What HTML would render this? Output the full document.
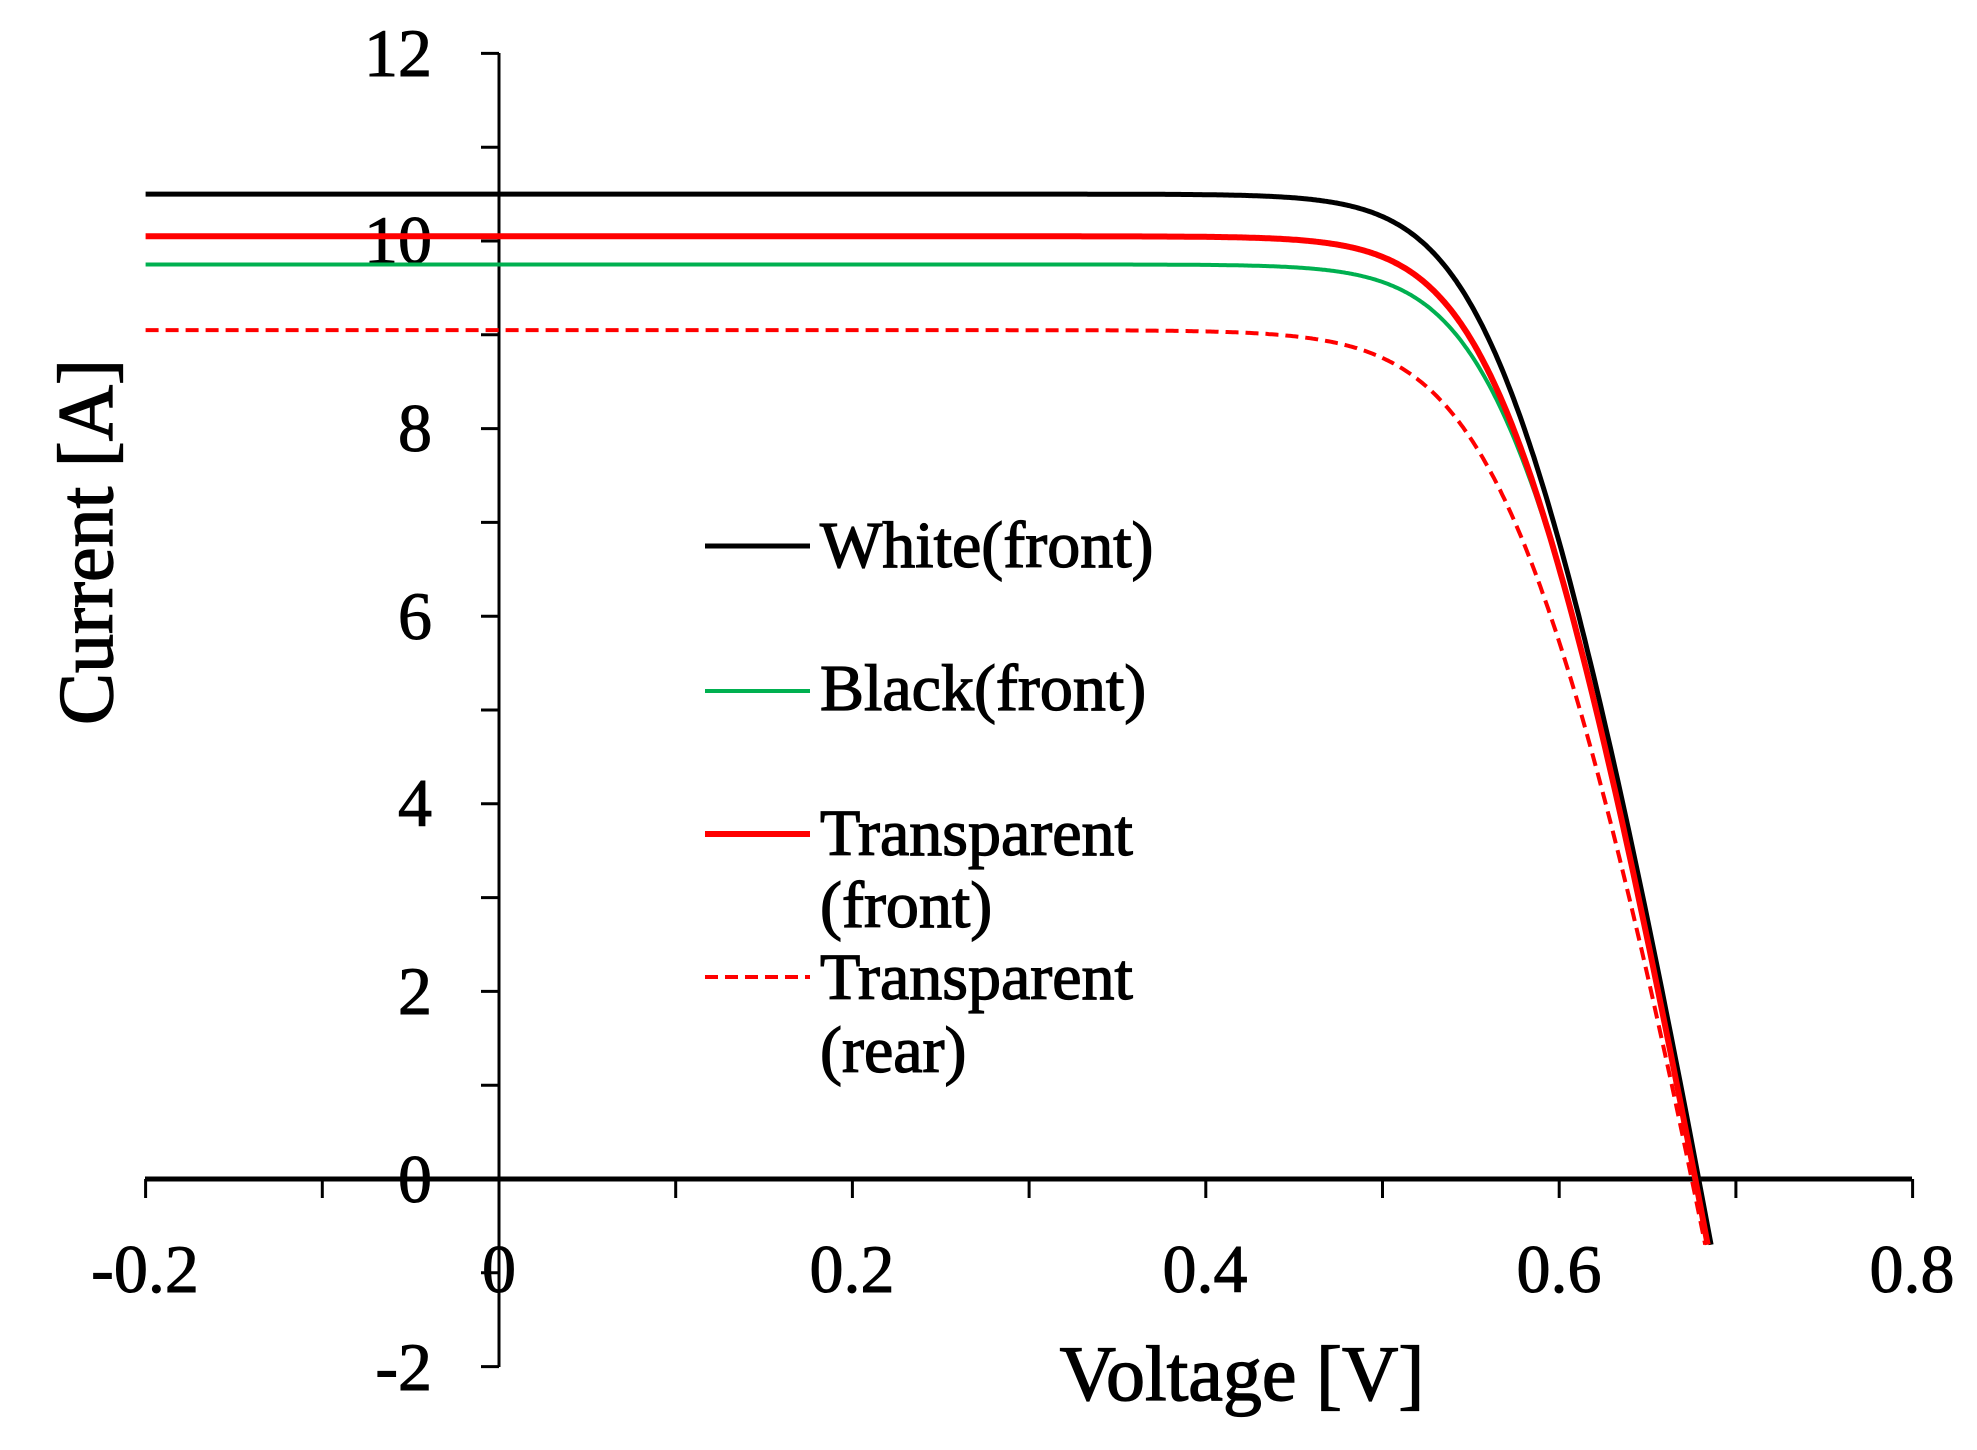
<!DOCTYPE html>
<html><head><meta charset="utf-8">
<style>
html,body{margin:0;padding:0;background:#fff;}
svg{display:block;}
text{font-family:"Liberation Serif","DejaVu Serif",serif;fill:#000;stroke:#000;}
</style></head>
<body>
<svg id="s" width="1977" height="1450" viewBox="0 0 1977 1450" xmlns="http://www.w3.org/2000/svg">
<rect width="1977" height="1450" fill="#fff"/>
<g id="axes" stroke="#000" fill="none">
<line x1="499" y1="53" x2="499" y2="1367" stroke-width="3"/>
<line x1="145" y1="1179" x2="1912" y2="1179" stroke-width="5"/>
</g>
<g id="ticks" stroke="#000" stroke-width="3"></g>
<g font-size="68" text-anchor="end" stroke-width="1">
<text x="432" y="76">12</text>
<text x="432" y="263">10</text>
<text x="432" y="451">8</text>
<text x="432" y="639">6</text>
<text x="432" y="826">4</text>
<text x="432" y="1014">2</text>
<text x="432" y="1202">0</text>
<text x="432" y="1390">-2</text>
</g>
<g font-size="68" text-anchor="middle" stroke-width="1">
<text x="145" y="1292">-0.2</text>
<text x="499" y="1292">0</text>
<text x="852" y="1292">0.2</text>
<text x="1205" y="1292">0.4</text>
<text x="1559" y="1292">0.6</text>
<text x="1912" y="1292">0.8</text>
</g>
<text x="1242" y="1400" font-size="78" text-anchor="middle" stroke-width="1.3">Voltage [V]</text>
<text transform="translate(112,542) rotate(-90)" font-size="78" text-anchor="middle" stroke-width="1.3">Current [A]</text>
<g id="curves" fill="none"></g>
<g>
<line x1="705" y1="546" x2="810" y2="546" stroke="#000" stroke-width="5"/>
<line x1="705" y1="691" x2="810" y2="691" stroke="#00b050" stroke-width="4"/>
<line x1="705" y1="834" x2="810" y2="834" stroke="#ff0000" stroke-width="6"/>
<line x1="705" y1="977" x2="810" y2="977" stroke="#ff0000" stroke-width="4" stroke-dasharray="13,7"/>
</g>
<g font-size="66" stroke-width="1.3">
<text x="820" y="567">White(front)</text>
<text x="820" y="710">Black(front)</text>
<text x="820" y="855">Transparent</text>
<text x="820" y="927">(front)</text>
<text x="820" y="999">Transparent</text>
<text x="820" y="1072">(rear)</text>
</g>
</svg>
<script>
(function(){
var NS="http://www.w3.org/2000/svg";
function X(v){return 499+v*1767;}
function Y(i){return 1179-i*93.8;}
var t=document.getElementById('ticks');
function ln(x1,y1,x2,y2){var l=document.createElementNS(NS,'line');l.setAttribute('x1',x1);l.setAttribute('y1',y1);l.setAttribute('x2',x2);l.setAttribute('y2',y2);t.appendChild(l);}
for(var i=-2;i<=12;i++){ln(481,Y(i),499,Y(i));}
for(var k=-2;k<=8;k++){var v=k/10;ln(X(v),1179,X(v),1198);}
var c=document.getElementById('curves');
var S=[
 {isc:9.05,voc:0.675,a:0.032,rs:0.0075,col:'#ff0000',w:4,d:'13,7'},
 {isc:9.75,voc:0.6785,a:0.027,rs:0.0075,col:'#00b050',w:4},
 {isc:10.5,voc:0.679,a:0.027,rs:0.0075,col:'#000',w:5},
 {isc:10.05,voc:0.677,a:0.027,rs:0.0075,col:'#ff0000',w:6}
];
S.forEach(function(s){
 var pts=[];
 var i0=s.isc*Math.exp(-s.voc/s.a);
 pts.push([X(-0.2),Y(s.isc)]);
 for(var n=0;n<=500;n++){
  var I=s.isc-0.00001*Math.pow(10,n*6/500);
  if(I<-0.7)break;
  var V=s.a*Math.log((s.isc-I)/i0)-I*s.rs;
  if(V<-0.2)continue;
  pts.push([X(V),Y(I)]);
 }
 var I2=-0.7,V2=s.a*Math.log((s.isc-I2)/i0)-I2*s.rs;pts.push([X(V2),Y(I2)]);
 var p=document.createElementNS(NS,'path');
 p.setAttribute('d','M'+pts.map(function(q){return q[0].toFixed(1)+','+q[1].toFixed(1);}).join(' L'));
 p.setAttribute('stroke',s.col);p.setAttribute('stroke-width',s.w);
 if(s.d)p.setAttribute('stroke-dasharray',s.d);
 c.appendChild(p);
});
})();
</script>
</body></html>
